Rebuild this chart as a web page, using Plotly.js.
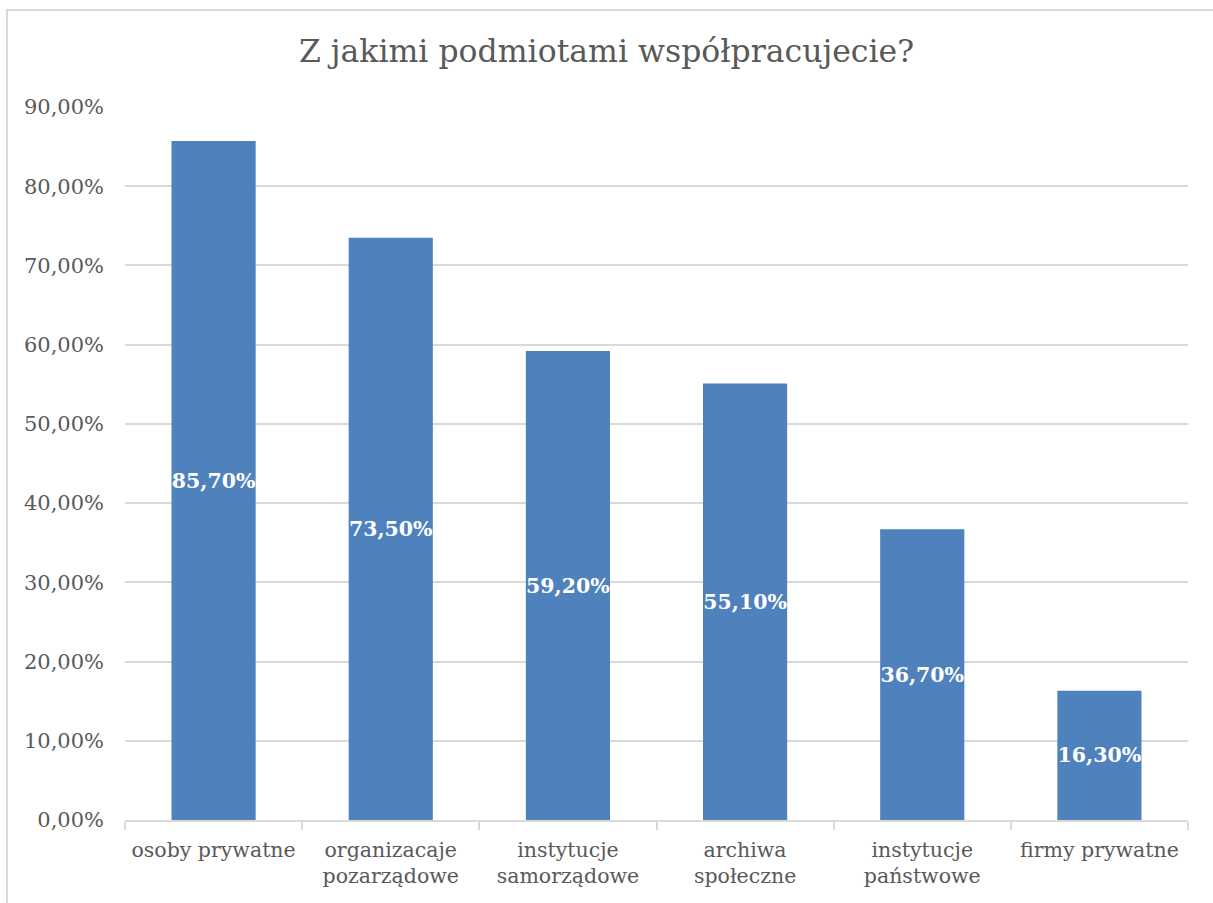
<!DOCTYPE html>
<html><head><meta charset="utf-8">
<script src="https://cdn.plot.ly/plotly-3.0.1.min.js"></script>
<style>
html,body{margin:0;padding:0;background:#fff;}
#wrap{position:relative;width:1213px;height:903px;}
#chart{width:1213px;height:903px;}
#frame{position:absolute;left:6px;top:9px;width:1207px;height:894px;border-top:2px solid #d9d9d9;border-left:2px solid #d9d9d9;pointer-events:none;box-sizing:border-box;}
</style></head>
<body>
<div id="wrap"><div id="chart"></div><div id="frame"></div></div>
<script>
const categories = ["osoby prywatne", "organizacaje<br>pozarządowe", "instytucje<br>samorządowe", "archiwa<br>społeczne", "instytucje<br>państwowe", "firmy prywatne"];
const values = [0.857, 0.735, 0.592, 0.551, 0.367, 0.163];
const labels = ["85,70%", "73,50%", "59,20%", "55,10%", "36,70%", "16,30%"];
const tickVals = [0, 0.1, 0.2, 0.3, 0.4, 0.5, 0.6, 0.7, 0.8, 0.9];

const FONT = "DejaVu Serif, serif";
Plotly.newPlot("chart", [{
  type: "bar",
  x: categories,
  y: values,
  text: labels,
  texttemplate: "%{text}",
  textposition: "inside",
  insidetextanchor: "middle",
  textangle: 0,
  constraintext: "none",
  textfont: {family: FONT, size: 20.5, color: "#ffffff", weight: "bold"},
  marker: {color: "#4f81bd"},
  hoverinfo: "skip"
}], {
  width: 1213, height: 903,
  margin: {l: 125, r: 25, t: 107, b: 83},
  paper_bgcolor: "#ffffff", plot_bgcolor: "#ffffff",
  separators: ", ",
  bargap: 0.525,
  showlegend: false,
  title: {text: "Z jakimi podmiotami współpracujecie?", font: {family: FONT, size: 31.5, color: "#595959"}, x: 0.5, xanchor: "center", y: 0.943, yanchor: "middle"},
  xaxis: {
    type: "category",
    showgrid: false,
    showline: true, linecolor: "#d9d9d9", linewidth: 2,
    ticks: "outside", tickson: "boundaries", ticklen: 8, tickcolor: "#d9d9d9", tickwidth: 2,
    ticklabelstandoff: 10,
    tickfont: {family: FONT, size: 20.5, color: "#595959"},
    fixedrange: true
  },
  yaxis: {
    range: [0, 0.9],
    tickvals: tickVals,
    tickformat: ".2%",
    showgrid: true, gridcolor: "#d9d9d9", gridwidth: 2,
    zeroline: false, showline: false,
    ticks: "", ticklabelstandoff: 20,
    tickfont: {family: FONT, size: 21, color: "#595959"},
    fixedrange: true
  }
}, {displayModeBar: false, staticPlot: true});
</script>
</body></html>
